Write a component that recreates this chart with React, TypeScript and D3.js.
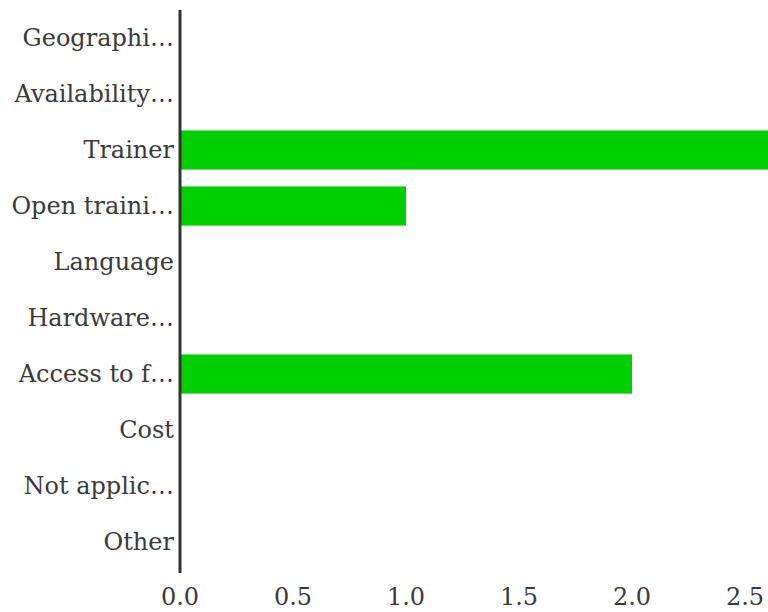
import * as d3 from "d3";

const categories = [
  "Geographi…",
  "Availability…",
  "Trainer",
  "Open traini…",
  "Language",
  "Hardware…",
  "Access to f…",
  "Cost",
  "Not applic…",
  "Other",
];
const values = [0, 0, 3, 1, 0, 0, 2, 0, 0, 0];
const xTicks = [0, 0.5, 1, 1.5, 2, 2.5];

const width = 768;
const height = 612;
const marginLeft = 180;
const marginTop = 10;
const marginBottom = 42;

export default function App() {
  const x = d3.scaleLinear().domain([0, 3]).range([marginLeft, marginLeft + 3 * 226]);
  const y = d3
    .scaleBand<string>()
    .domain(categories)
    .range([marginTop, height - marginBottom])
    .paddingInner(0.3)
    .paddingOuter(0.15);

  return (
    <div style={{ position: "absolute", left: 0, top: 0 }}>
      <svg width={width} height={height} style={{ display: "block", overflow: "hidden" }} fontFamily="DejaVu Serif">
        <g>
          {categories.map((c, i) => (
            <rect
              key={c}
              x={x(0)}
              y={y(c)}
              width={x(values[i]) - x(0)}
              height={y.bandwidth()}
              fill="#00cf00"
            />
          ))}
        </g>
        <line
          x1={x(0)}
          x2={x(0)}
          y1={marginTop}
          y2={height - marginBottom + 3}
          stroke="#333"
          strokeWidth={3}
        />
        <g fontSize={24} fill="#3a3a3a" textAnchor="end">
          {categories.map((c) => (
            <text key={c} x={x(0) - 6} y={(y(c) ?? 0) + y.bandwidth() / 2} dy="0.35em">
              {c}
            </text>
          ))}
        </g>
        <g fontSize={24} fill="#3a3a3a" textAnchor="middle">
          {xTicks.map((t) => (
            <text key={t} x={x(t)} y={597} dy="0.35em">
              {d3.format(".1f")(t)}
            </text>
          ))}
        </g>
      </svg>
    </div>
  );
}
